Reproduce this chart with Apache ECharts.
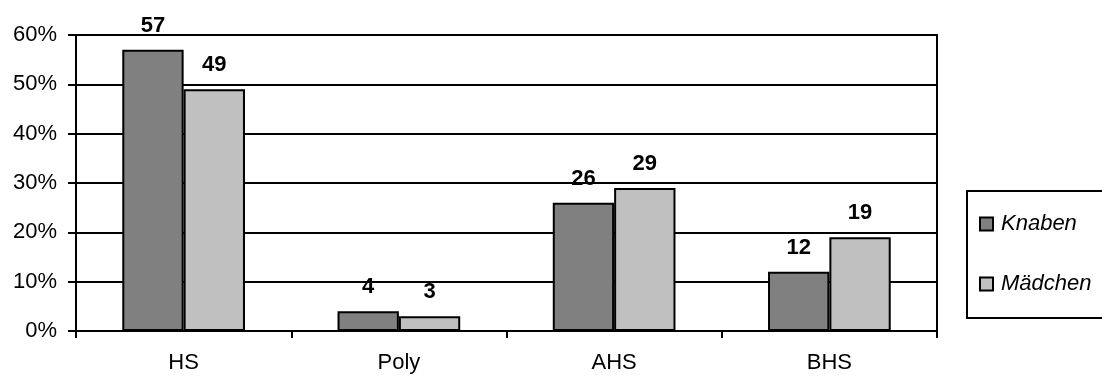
<!DOCTYPE html>
<html>
<head>
<meta charset="utf-8">
<script src="https://cdn.jsdelivr.net/npm/echarts@6/dist/echarts.min.js"></script>
<style>
  html, body { margin: 0; padding: 0; background: #fff; }
  #chart { width: 1102px; height: 376px; }
</style>
</head>
<body>
<div id="chart"></div>
<script>
// School types and shares (percent) per group
const categories = ['HS', 'Poly', 'AHS', 'BHS'];
const knaben = [57, 4, 26, 12];
const maedchen = [49, 3, 29, 19];
const seriesNames = ['Knaben', 'Mädchen'];

const FONT = 'Liberation Sans, Arial, sans-serif';

const chart = echarts.init(document.getElementById('chart'));

const barLabel = {
  show: true,
  position: 'top',
  distance: 13,
  fontFamily: FONT,
  fontSize: 22,
  fontWeight: 'bold',
  color: '#000'
};

chart.setOption({
  animation: false,
  backgroundColor: '#fff',
  grid: {
    left: 76, right: 165, top: 35, bottom: 45,
    show: true, borderColor: '#000', borderWidth: 2, backgroundColor: 'transparent'
  },
  legend: {
    orient: 'vertical',
    left: 967, top: 191,
    padding: [22, 30, 23, 12],
    itemGap: 38,
    itemWidth: 13, itemHeight: 13,
    icon: 'rect',
    borderColor: '#000', borderWidth: 2,
    textStyle: { fontFamily: FONT, fontSize: 22, fontStyle: 'italic', color: '#000', padding: [0, 0, 0, 3] },
    data: seriesNames
  },
  xAxis: {
    type: 'category',
    data: categories,
    axisLine: { lineStyle: { color: '#000', width: 2 } },
    axisTick: { show: true, length: 7, lineStyle: { color: '#000', width: 2 } },
    axisLabel: { fontFamily: FONT, fontSize: 22, color: '#000', margin: 21 }
  },
  yAxis: {
    type: 'value',
    min: 0, max: 60, interval: 10,
    axisLine: { show: true, lineStyle: { color: '#000', width: 2 } },
    axisTick: { show: true, length: 8, lineStyle: { color: '#000', width: 2 } },
    splitLine: { lineStyle: { color: '#000', width: 2 } },
    axisLabel: { fontFamily: FONT, fontSize: 22, color: '#000', margin: 19, formatter: '{value}%' }
  },
  series: [
    {
      name: seriesNames[0], type: 'bar', data: knaben,
      barGap: '0%', barCategoryGap: '43%',
      itemStyle: { color: '#808080', borderColor: '#000', borderWidth: 2 },
      label: barLabel
    },
    {
      name: seriesNames[1], type: 'bar', data: maedchen,
      itemStyle: { color: '#c0c0c0', borderColor: '#000', borderWidth: 2 },
      label: barLabel
    }
  ]
});
</script>
</body>
</html>
